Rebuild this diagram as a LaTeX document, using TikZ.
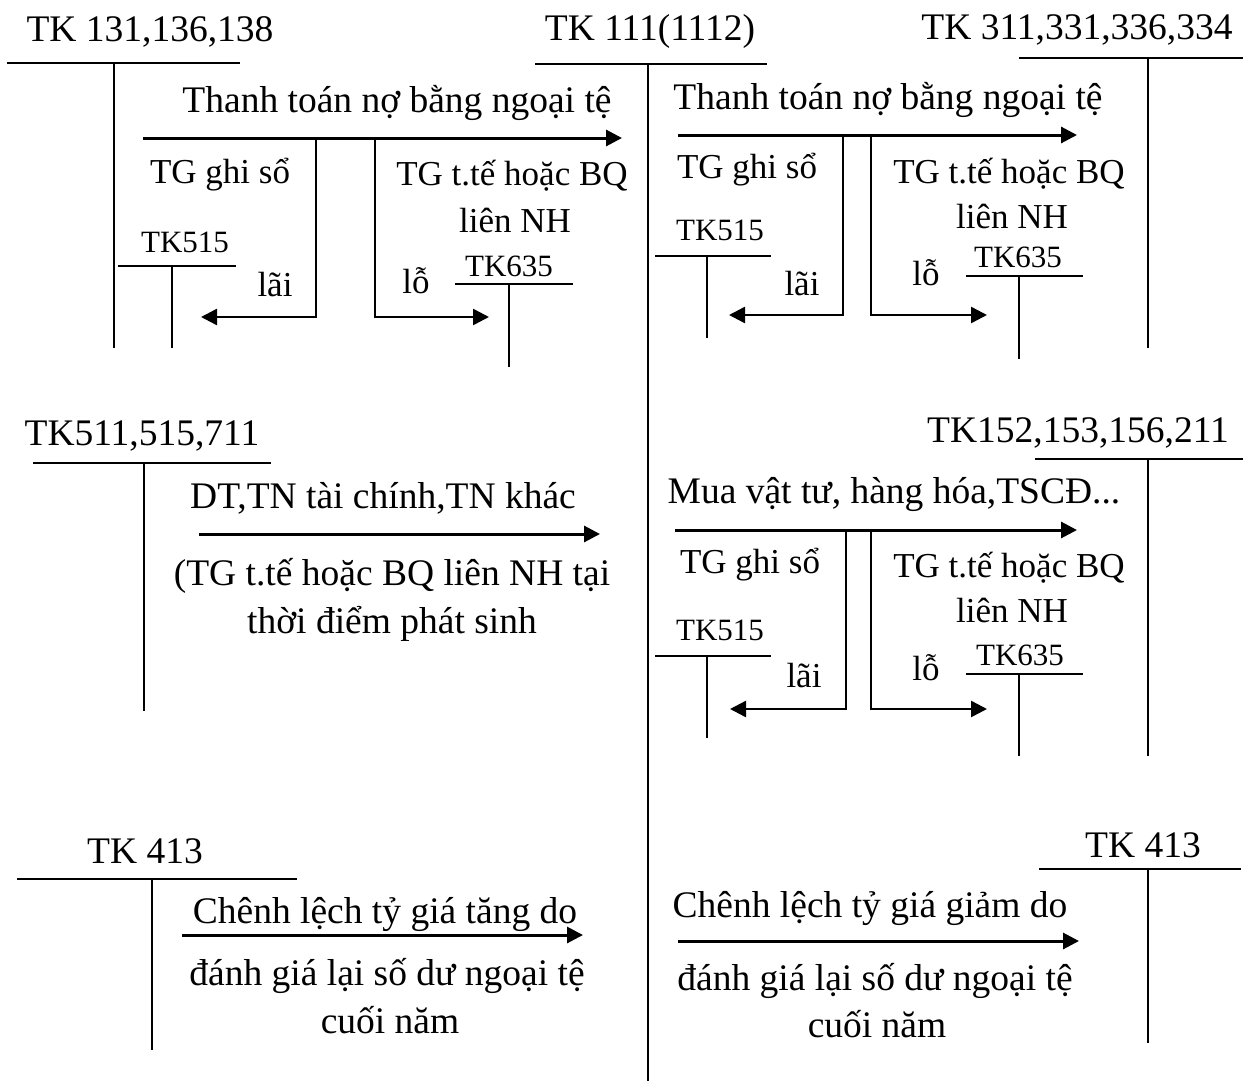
\documentclass[tikz,border=0pt]{standalone}
\usepackage{fontspec}
\setmainfont{Liberation Serif}
\usetikzlibrary{arrows.meta}
\begin{document}
\begin{tikzpicture}[x=1pt,y=-1pt,
  big/.style={inner sep=0pt, anchor=base, font=\fontsize{37.5}{41}\selectfont},
  mid/.style={inner sep=0pt, anchor=base, font=\fontsize{35}{39}\selectfont},
  sm/.style={inner sep=0pt, anchor=base, font=\fontsize{31}{35}\selectfont},
  acct/.style={line width=2pt},
  flow/.style={line width=3pt, -{Triangle[length=16pt,width=16pt]}},
  branch/.style={line width=2.5pt, -{Triangle[length=16pt,width=16pt]}}]
\useasboundingbox (0,0) rectangle (1243,1081);

% ---------- TK 111(1112) main account ----------
\node[big] (mainlbl) at (650,41) {TK 111(1112)};
\coordinate (mL) at (535,64); \coordinate (mR) at (767,64);
\coordinate (mT) at (648,64); \coordinate (mB) at (648,1081);
\draw[acct] (mL) -- (mR); \draw[acct] (mT) -- (mB);

% ---------- Top-left: TK 131,136,138 ----------
\node[big] (a1lbl) at (150,42) {TK 131,136,138};
\coordinate (a1L) at (7,63); \coordinate (a1R) at (240,63);
\coordinate (a1T) at (114,63); \coordinate (a1B) at (114,348);
\draw[acct] (a1L) -- (a1R); \draw[acct] (a1T) -- (a1B);

\node[big] (f1txt) at (397,112) {Thanh toán nợ bằng ngoại tệ};
\coordinate (f1s) at (143,138); \coordinate (f1e) at (622,138);
\draw[flow] (f1s) -- (f1e);
\coordinate (f1b1) at (316,138); \coordinate (f1b1e) at (201,317);
\coordinate (f1b2) at (375,138); \coordinate (f1b2e) at (489,317);
\draw[branch] (f1b1) |- (f1b1e);
\draw[branch] (f1b2) |- (f1b2e);
\node[mid] (f1g) at (220,183) {TG ghi sổ};
\node[mid] (f1t1) at (512,185) {TG t.tế hoặc BQ};
\node[mid] (f1t2) at (515,232) {liên NH};
\node[mid] (f1lai) at (275,296) {lãi};
\node[mid] (f1lo) at (416,293) {lỗ};
\node[sm] (f1k515) at (185,252) {TK515};
\coordinate (k1L) at (118,266); \coordinate (k1R) at (236,266);
\coordinate (k1T) at (172,266); \coordinate (k1B) at (172,348);
\draw[acct] (k1L) -- (k1R); \draw[acct] (k1T) -- (k1B);
\node[sm] (f1k635) at (509,276) {TK635};
\coordinate (k2L) at (455,284); \coordinate (k2R) at (573,284);
\coordinate (k2T) at (509,284); \coordinate (k2B) at (509,367);
\draw[acct] (k2L) -- (k2R); \draw[acct] (k2T) -- (k2B);

% ---------- Top-right: TK 311,331,336,334 ----------
\node[big] (a2lbl) at (1077,40) {TK 311,331,336,334};
\coordinate (a2L) at (1019,58); \coordinate (a2R) at (1243,58);
\coordinate (a2T) at (1148,58); \coordinate (a2B) at (1148,348);
\draw[acct] (a2L) -- (a2R); \draw[acct] (a2T) -- (a2B);

\node[big] (f2txt) at (888,110) {Thanh toán nợ bằng ngoại tệ};
\coordinate (f2s) at (678,135); \coordinate (f2e) at (1077,135);
\draw[flow] (f2s) -- (f2e);
\coordinate (f2b1) at (843,135); \coordinate (f2b1e) at (729,315);
\coordinate (f2b2) at (871,135); \coordinate (f2b2e) at (987,315);
\draw[branch] (f2b1) |- (f2b1e);
\draw[branch] (f2b2) |- (f2b2e);
\node[mid] (f2g) at (747,178) {TG ghi sổ};
\node[mid] (f2t1) at (1009,183) {TG t.tế hoặc BQ};
\node[mid] (f2t2) at (1012,228) {liên NH};
\node[mid] (f2lai) at (802,295) {lãi};
\node[mid] (f2lo) at (926,285) {lỗ};
\node[sm] (f2k515) at (720,240) {TK515};
\coordinate (k3L) at (655,256); \coordinate (k3R) at (771,256);
\coordinate (k3T) at (707,256); \coordinate (k3B) at (707,338);
\draw[acct] (k3L) -- (k3R); \draw[acct] (k3T) -- (k3B);
\node[sm] (f2k635) at (1018,267) {TK635};
\coordinate (k4L) at (966,276); \coordinate (k4R) at (1083,276);
\coordinate (k4T) at (1019,276); \coordinate (k4B) at (1019,359);
\draw[acct] (k4L) -- (k4R); \draw[acct] (k4T) -- (k4B);

% ---------- Middle-left: TK511,515,711 ----------
\node[big] (a3lbl) at (142,445) {TK511,515,711};
\coordinate (a3L) at (33,463); \coordinate (a3R) at (271,463);
\coordinate (a3T) at (144,463); \coordinate (a3B) at (144,711);
\draw[acct] (a3L) -- (a3R); \draw[acct] (a3T) -- (a3B);
\node[big] (f3txt) at (383,508) {DT,TN tài chính,TN khác};
\coordinate (f3s) at (199,534); \coordinate (f3e) at (600,534);
\draw[flow] (f3s) -- (f3e);
\node[big] (f3n1) at (392,585) {(TG t.tế hoặc BQ liên NH tại};
\node[big] (f3n2) at (392,633) {thời điểm phát sinh};

% ---------- Middle-right: TK152,153,156,211 ----------
\node[big] (a4lbl) at (1078,442) {TK152,153,156,211};
\coordinate (a4L) at (1035,459); \coordinate (a4R) at (1243,459);
\coordinate (a4T) at (1148,459); \coordinate (a4B) at (1148,756);
\draw[acct] (a4L) -- (a4R); \draw[acct] (a4T) -- (a4B);

\node[big] (f4txt) at (894,503) {Mua vật tư, hàng hóa,TSCĐ...};
\coordinate (f4s) at (675,530); \coordinate (f4e) at (1077,530);
\draw[flow] (f4s) -- (f4e);
\coordinate (f4b1) at (846,530); \coordinate (f4b1e) at (730,709);
\coordinate (f4b2) at (871,530); \coordinate (f4b2e) at (987,709);
\draw[branch] (f4b1) |- (f4b1e);
\draw[branch] (f4b2) |- (f4b2e);
\node[mid] (f4g) at (750,573) {TG ghi sổ};
\node[mid] (f4t1) at (1009,577) {TG t.tế hoặc BQ};
\node[mid] (f4t2) at (1012,622) {liên NH};
\node[mid] (f4lai) at (804,687) {lãi};
\node[mid] (f4lo) at (926,680) {lỗ};
\node[sm] (f4k515) at (720,640) {TK515};
\coordinate (k5L) at (655,656); \coordinate (k5R) at (771,656);
\coordinate (k5T) at (707,656); \coordinate (k5B) at (707,738);
\draw[acct] (k5L) -- (k5R); \draw[acct] (k5T) -- (k5B);
\node[sm] (f4k635) at (1020,665) {TK635};
\coordinate (k6L) at (966,674); \coordinate (k6R) at (1083,674);
\coordinate (k6T) at (1019,674); \coordinate (k6B) at (1019,756);
\draw[acct] (k6L) -- (k6R); \draw[acct] (k6T) -- (k6B);

% ---------- Bottom-left: TK 413 ----------
\node[big] (a5lbl) at (145,863) {TK 413};
\coordinate (a5L) at (17,879); \coordinate (a5R) at (297,879);
\coordinate (a5T) at (152,879); \coordinate (a5B) at (152,1050);
\draw[acct] (a5L) -- (a5R); \draw[acct] (a5T) -- (a5B);
\node[big] (f5txt) at (385,923) {Chênh lệch tỷ giá tăng do};
\coordinate (f5s) at (182,935); \coordinate (f5e) at (583,935);
\draw[flow] (f5s) -- (f5e);
\node[big] (f5n1) at (387,985) {đánh giá lại số dư ngoại tệ};
\node[big] (f5n2) at (390,1033) {cuối năm};

% ---------- Bottom-right: TK 413 ----------
\node[big] (a6lbl) at (1143,857) {TK 413};
\coordinate (a6L) at (1039,869); \coordinate (a6R) at (1241,869);
\coordinate (a6T) at (1148,869); \coordinate (a6B) at (1148,1043);
\draw[acct] (a6L) -- (a6R); \draw[acct] (a6T) -- (a6B);
\node[big] (f6txt) at (870,917) {Chênh lệch tỷ giá giảm do};
\coordinate (f6s) at (678,941); \coordinate (f6e) at (1079,941);
\draw[flow] (f6s) -- (f6e);
\node[big] (f6n1) at (875,990) {đánh giá lại số dư ngoại tệ};
\node[big] (f6n2) at (877,1037) {cuối năm};
\end{tikzpicture}
\end{document}
